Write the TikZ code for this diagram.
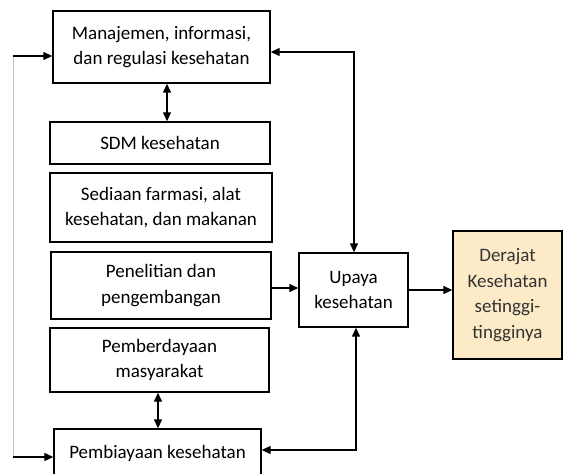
\documentclass[tikz,border=0pt]{standalone}
\usepackage{fontspec}
\setmainfont{Carlito}
\usetikzlibrary{arrows.meta}
\definecolor{tan}{HTML}{FDEBC8}
\begin{document}
\begin{tikzpicture}[x=1pt,y=-1pt,
  txt/.style={font=\fontsize{19}{25.5}\selectfont},
  box/.style={txt,draw=black,line width=1.4pt,fill=white,inner sep=0pt,align=center},
  link/.style={line width=1.3pt,-{Triangle[length=9pt,width=8pt]}},
  both/.style={line width=1.3pt,{Triangle[length=9pt,width=8pt]}-{Triangle[length=9pt,width=8pt]}}]
\useasboundingbox (0,0) rectangle (563,474);
\clip (0,0) rectangle (563,474);
% boxes
\node[box,minimum width=217pt,minimum height=72pt] (man) at (161.5,47) {Manajemen, informasi,\\dan regulasi kesehatan};
\node[box,minimum width=220pt,minimum height=42pt] (sdm) at (160,143) {SDM kesehatan};
\node[box,minimum width=222pt,minimum height=69pt] (sed) at (161,207.5) {Sediaan farmasi, alat\\kesehatan, dan makanan};
\node[box,minimum width=220pt,minimum height=67pt] (pen) at (161,285.5) {Penelitian dan\\pengembangan};
\node[box,minimum width=219pt,minimum height=64pt] (pem) at (159.5,360) {Pemberdayaan\\masyarakat};
\node[box,minimum width=207pt,minimum height=56pt] (pby) at (157.5,457) {};
\node[txt,anchor=base] (pbyt) at (157.5,458) {Pembiayaan kesehatan};
\node[box,minimum width=109pt,minimum height=74pt] (upa) at (353.5,290) {Upaya\\kesehatan};
\node[box,fill=tan,minimum width=109pt,minimum height=128pt,text=black!80] (der) at (507.5,295) {Derajat\\Kesehatan\\setinggi-\\tingginya};
% feedback line on the left
\coordinate (lt) at (13,56);
\coordinate (lb) at (13,457);
\draw[black!25,line width=1pt] (lt) -- (lb);
\draw[link] (lt) -- (man.west |- lt);
\draw[link] (lb) -- (pby.west |- lb);
% vertical links
\draw[both] (man.south -| 167,0) -- (sdm.north -| 167,0);
\draw[both] (pem.south -| 158,0) -- (pby.north -| 158,0);
% links to and from Upaya kesehatan
\draw[link] (pen.east |- 0,288) -- (upa.west |- 0,288);
\draw[link] (upa.east |- 0,290) -- (der.west |- 0,290);
\draw[both] (man.east |- 0,52) -| (upa.north -| 354,0);
\draw[both] (pby.east |- 0,450) -| (upa.south -| 356,0);
\end{tikzpicture}
\end{document}
